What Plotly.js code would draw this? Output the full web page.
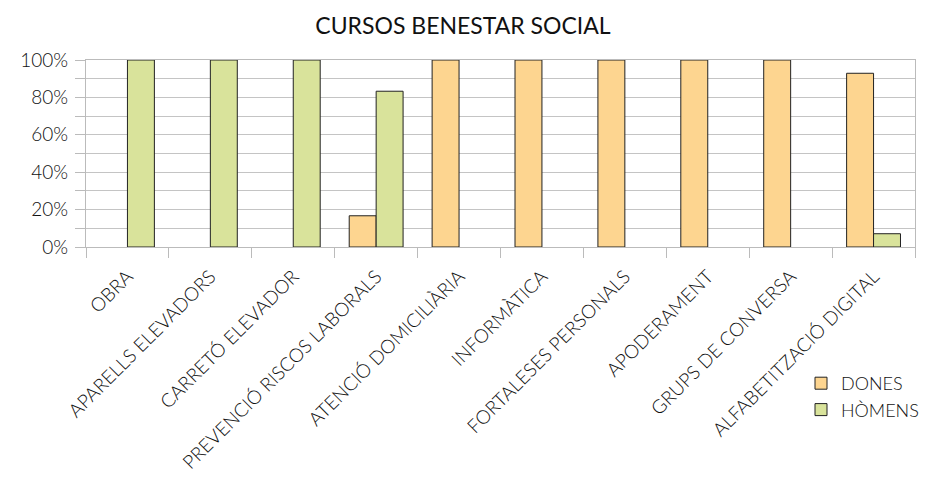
<!DOCTYPE html>
<html><head><meta charset="utf-8">
<script src="https://cdn.plot.ly/plotly-3.0.1.min.js"></script>
<style>body{margin:0;background:#fff}#c{width:926px;height:477px}</style>
</head><body><div id="c"></div>
<script>
const categories = ["OBRA","APARELLS ELEVADORS","CARRETÓ ELEVADOR","PREVENCIÓ RISCOS LABORALS","ATENCIÓ DOMICILIÀRIA","INFORMÀTICA","FORTALESES PERSONALS","APODERAMENT","GRUPS DE CONVERSA","ALFABETITZACIÓ DIGITAL"];
const dones = [null,null,null,0.167,1,1,1,1,1,0.929];
const homens = [1,1,1,0.833,null,null,null,null,null,0.071];
const seriesNames = ["DONES","HÒMENS"];
const fontFam = "Lato, 'Open Sans', sans-serif";
const traces = [
  {type:'bar', name:seriesNames[0], legendgroup:'a', x:categories, y:dones, marker:{color:'#FDD590', line:{color:'#222', width:1}}},
  {type:'bar', name:seriesNames[1], legendgroup:'b', x:categories, y:homens, marker:{color:'#D9E39B', line:{color:'#222', width:1}}}
];
const layout = {
  width:926, height:477,
  margin:{l:86, r:11, t:60, b:230, autoexpand:false},
  paper_bgcolor:'#fff', plot_bgcolor:'#fff',
  font:{family:fontFam, color:'#111'},
  title:{text:'CURSOS BENESTAR SOCIAL', x:0.5, xref:'container', y:0.945, yanchor:'middle', font:{size:23, family:fontFam, color:'#111'}},
  barmode:'group', bargap:0.35, bargroupgap:0,
  showlegend:true,
  legend:{xref:'container', yref:'container', x:801/926, xanchor:'left', y:1-365/477, yanchor:'top',
    font:{size:18, family:fontFam, color:'#111', weight:300}, tracegroupgap:10, itemwidth:30, traceorder:'normal'},
  xaxis:{type:'category', tickangle:-45, tickfont:{size:19, family:fontFam, color:'#111', weight:300},
    ticks:'outside', tickson:'boundaries', ticklen:10, tickcolor:'#bbb', showgrid:false, ticklabelstandoff:10,
    showline:true, linecolor:'#bbb', mirror:true, fixedrange:true, automargin:false},
  yaxis:{range:[0,1], dtick:0.2, tickformat:'.0%', tickfont:{size:19, family:fontFam, color:'#111', weight:300},
    showgrid:true, gridcolor:'#c4c4c4', gridwidth:1,
    minor:{dtick:0.1, showgrid:true, gridcolor:'#c4c4c4', ticks:'outside', ticklen:10, tickcolor:'#bbb'},
    ticks:'outside', ticklen:10, tickcolor:'#bbb', zeroline:false, ticklabelstandoff:3,
    showline:true, linecolor:'#bbb', mirror:true, fixedrange:true, automargin:false}
};
Plotly.newPlot('c', traces, layout, {displayModeBar:false, staticPlot:true});
</script></body></html>
